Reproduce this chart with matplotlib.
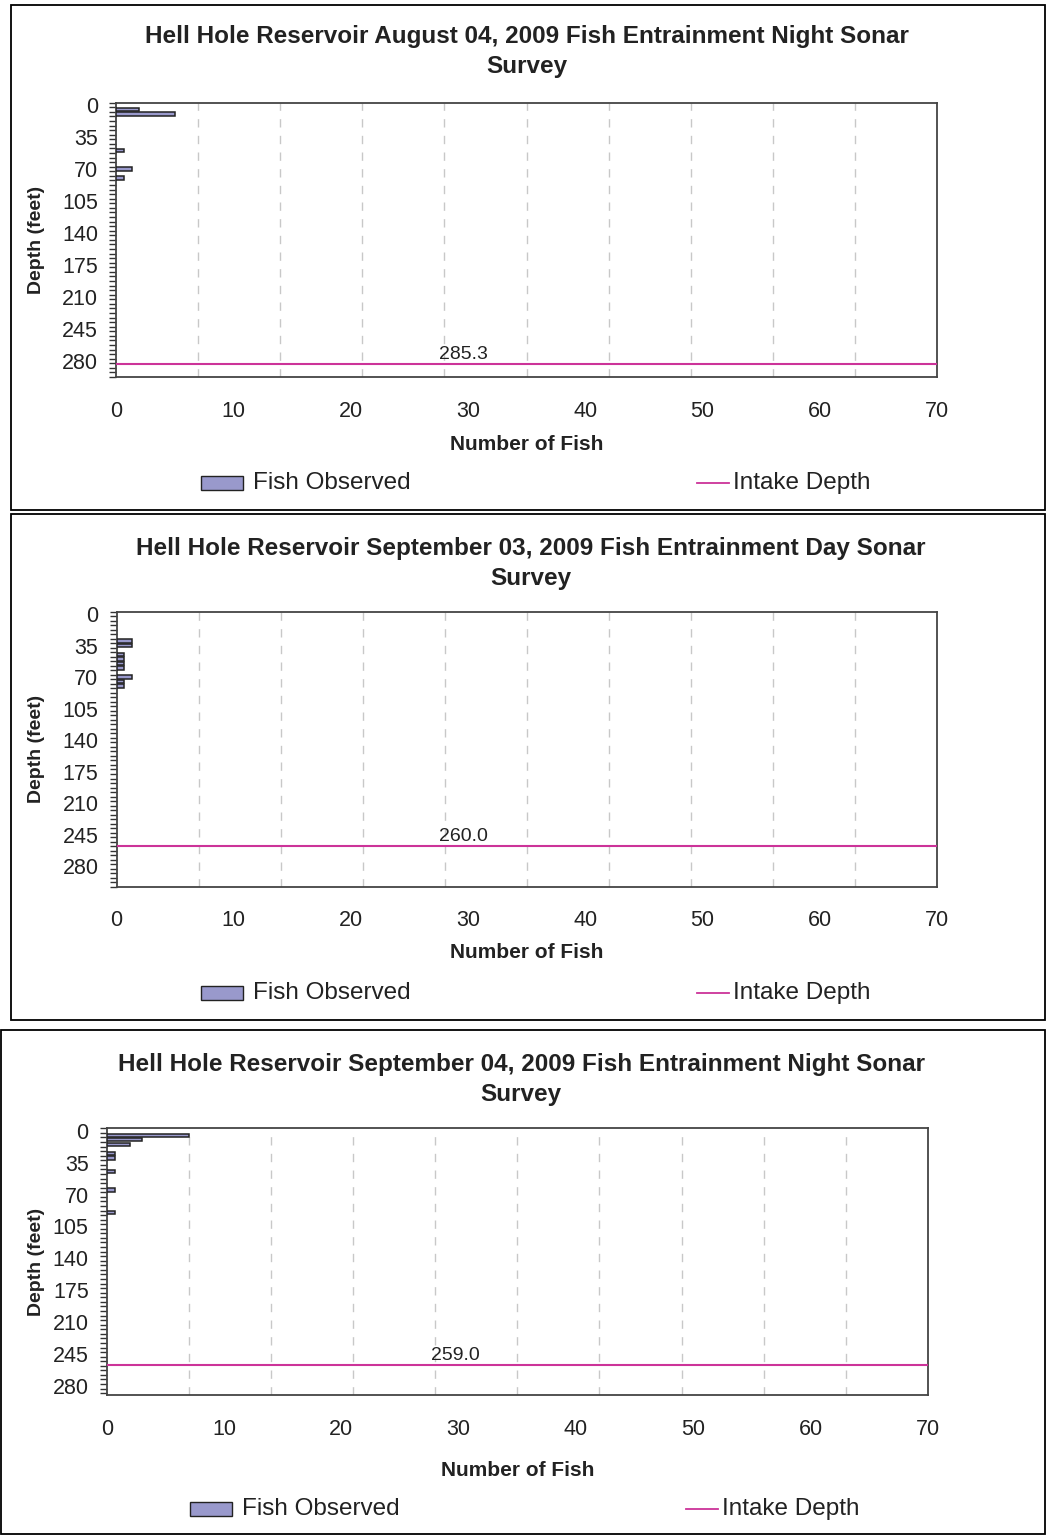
import matplotlib.pyplot as plt
import numpy as np
from matplotlib.patches import Rectangle
from matplotlib.lines import Line2D

plt.rcParams['font.family'] = ['Liberation Sans', 'DejaVu Sans']

W, H = 1046, 1535

# survey data (depth bin in feet, fish per bin)
titles = [
    "Hell Hole Reservoir August 04, 2009 Fish Entrainment Night Sonar",
    "Hell Hole Reservoir September 03, 2009 Fish Entrainment Day Sonar",
    "Hell Hole Reservoir September 04, 2009 Fish Entrainment Night Sonar",
]
aug04_depth = [5, 10, 50, 70, 80]
aug04_fish = [2.0, 5.0, 0.67, 1.33, 0.67]
aug04_intake = 285.3

sep03_depth = [30, 35, 45, 50, 55, 60, 70, 75, 80]
sep03_fish = [1.33, 1.33, 0.67, 0.67, 0.67, 0.67, 1.33, 0.67, 0.67]
sep03_intake = 260.0

sep04_depth = [5, 10, 15, 25, 30, 45, 65, 90]
sep04_fish = [7.0, 3.0, 2.0, 0.67, 0.67, 0.67, 0.67, 0.67]
sep04_intake = 259.0

depth_labels = [0, 35, 70, 105, 140, 175, 210, 245, 280]
fish_ticks = [0, 10, 20, 30, 40, 50, 60, 70]

panels = [
    dict(depth=aug04_depth, fish=aug04_fish, intake=aug04_intake, title=titles[0],
         frame=(11, 5, 1045, 510), ax=(116, 102.7, 937, 377), ymax=300,
         ty=(36, 66), tx=527, xly=445, lgy=483, lgx=201, ltx=463),
    dict(depth=sep03_depth, fish=sep03_fish, intake=sep03_intake, title=titles[1],
         frame=(11, 514, 1045, 1020), ax=(116.5, 611.7, 937, 886.7), ymax=305,
         ty=(548, 578), tx=531, xly=953, lgy=993, lgx=201, ltx=463),
    dict(depth=sep04_depth, fish=sep04_fish, intake=sep04_intake, title=titles[2],
         frame=(1, 1030, 1045, 1534), ax=(106.7, 1128.3, 928, 1395), ymax=292,
         ty=(1064, 1095), tx=521, xly=1471, lgy=1509, lgx=190, ltx=455),
]

fig = plt.figure(figsize=(W / 100, H / 100), dpi=100)

bar_color = '#9999cc'
line_color = '#cc3399'

for p in panels:
    x0, y0, x1, y1 = p['frame']
    fig.add_artist(Rectangle((x0 / W, 1 - y1 / H), (x1 - x0) / W, (y1 - y0) / H,
                             transform=fig.transFigure, fill=False, lw=1.3, ec='black'))
    l, t, r, b = p['ax']
    ax = fig.add_axes([l / W, 1 - b / H, (r - l) / W, (b - t) / H])

    ax.barh(np.array(p['depth']) + 2.5, p['fish'], height=3.6, color=bar_color,
            edgecolor='#222222', linewidth=1.1, zorder=3)
    ax.axhline(p['intake'], color=line_color, lw=1.5, zorder=4)
    lx_data = (p['ltx'] - l) / (r - l) * 70
    ax.text(lx_data, p['intake'] - 1, f"{p['intake']:.1f}", ha='center', va='bottom',
            fontsize=14, color='#222222')

    ax.set_xlim(0, 70)
    ax.set_ylim(p['ymax'], 0)
    for g in range(7, 70, 7):
        ax.axvline(g, color='#c8c8c8', lw=1, ls=(0, (6, 6)), zorder=1)

    ax.set_yticks([d + 2.5 for d in depth_labels])
    ax.set_yticklabels([str(d) for d in depth_labels], fontsize=15.5, color='#222222')
    ax.set_yticks(np.arange(0, p['ymax'] + 1, 5), minor=True)
    ax.tick_params(axis='y', which='major', length=0, pad=13)
    ax.tick_params(axis='y', which='minor', length=5, width=1, color='#333333')
    ax.set_xticks(fish_ticks)
    ax.set_xticklabels([str(v) for v in fish_ticks], fontsize=15.5, color='#222222')
    ax.tick_params(axis='x', length=0, pad=17)

    for s in ax.spines.values():
        s.set_color('#444444')
        s.set_linewidth(1.3)

    ax.set_ylabel('Depth (feet)', fontsize=14, fontweight='bold', color='#222222')
    ax.yaxis.set_label_coords((45 - l) / (r - l), 0.5)

    fig.text(p['tx'] / W, 1 - p['ty'][0] / H, p['title'], ha='center', va='center',
             fontsize=17.5, fontweight='bold', color='#222222')
    fig.text(p['tx'] / W, 1 - p['ty'][1] / H, 'Survey', ha='center', va='center',
             fontsize=17.5, fontweight='bold', color='#222222')
    fig.text((l + r) / 2 / W, 1 - p['xly'] / H, 'Number of Fish', ha='center', va='center',
             fontsize=15, fontweight='bold', color='#222222')

    # legend entries
    lx = p['lgx']
    ly = p['lgy']
    fig.add_artist(Rectangle((lx / W, 1 - (ly + 7) / H), 42 / W, 14 / H,
                             transform=fig.transFigure, fc=bar_color, ec='#222222', lw=1.0))
    fig.text((lx + 52) / W, 1 - ly / H, 'Fish Observed', ha='left', va='center',
             fontsize=17.5, color='#222222')
    fig.add_artist(Line2D([(lx + 496) / W, (lx + 528) / W], [1 - ly / H, 1 - ly / H],
                          transform=fig.transFigure, color=line_color, lw=1.3))
    fig.text((lx + 532) / W, 1 - ly / H, 'Intake Depth', ha='left', va='center',
             fontsize=17.5, color='#222222')

fig.savefig('out.png', dpi=100)
